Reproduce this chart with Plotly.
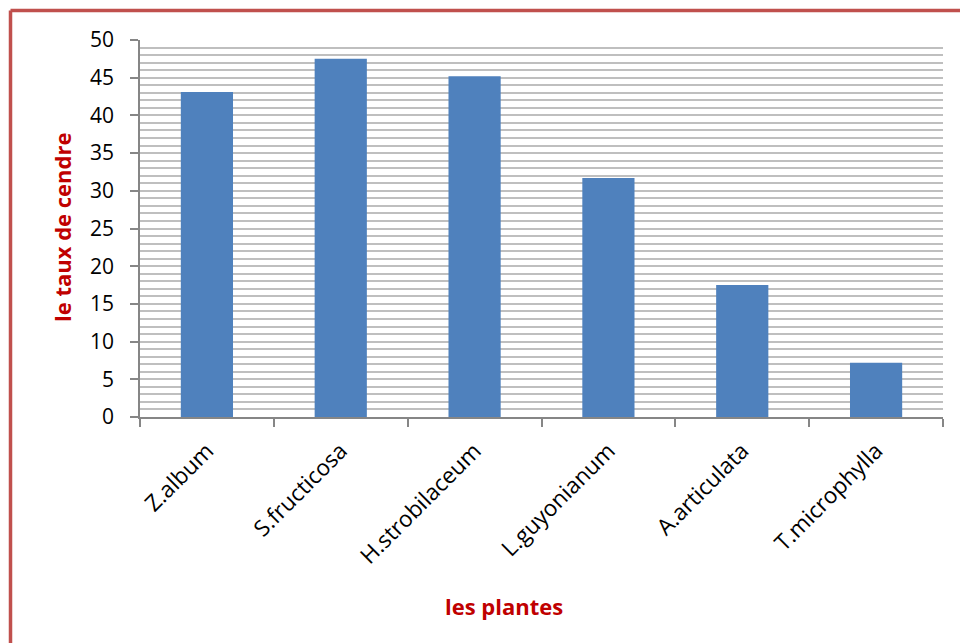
import plotly.graph_objects as go

categories = ["Z.album", "S.fructicosa", "H.strobilaceum", "L.guyonianum", "A.articulata", "T.microphylla"]
values = [43.1, 47.5, 45.2, 31.7, 17.5, 7.2]
y_title = "le taux de cendre"
x_title = "les plantes"

W, H = 960, 643
L, R, T, B = 140, 17, 40, 226
pw, ph = W - L - R, H - T - B

def px_x(px):
    return (px - L) / pw

def px_y(py):
    return (H - B - py) / ph

fig = go.Figure(go.Bar(x=categories, y=values, marker=dict(color="#4F81BD", line=dict(width=0)), width=0.39))

font_main = "Open Sans, Liberation Sans, Arial"
fig.update_layout(
    width=W, height=H,
    margin=dict(l=L, r=R, t=T, b=B),
    paper_bgcolor="white", plot_bgcolor="white",
    showlegend=False,
    font=dict(family=font_main, size=18, color="black"),
    xaxis=dict(
        type="category", tickson="boundaries", ticks="outside", ticklen=8,
        tickcolor="#868686", tickwidth=1.5, showline=True, linecolor="#868686", linewidth=1.5,
        showgrid=False, tickangle=-45, tickfont=dict(size=22.5, family=font_main),
        ticklabelstandoff=10,
    ),
    yaxis=dict(
        range=[0, 50], dtick=5, tick0=0, ticks="outside", ticklen=8,
        tickcolor="#868686", tickwidth=1.5, showline=True, linecolor="#868686", linewidth=1.5,
        showgrid=True, gridcolor="#BFBFBF", gridwidth=1.5, zeroline=False,
        minor=dict(dtick=1, showgrid=True, gridcolor="#BFBFBF", gridwidth=1.5),
        tickfont=dict(size=21, family=font_main),
        ticklabelstandoff=12,
    ),
    annotations=[
        dict(text="<b>" + y_title + "</b>", xref="paper", yref="paper",
             x=px_x(62), y=px_y(228), textangle=-90, showarrow=False,
             font=dict(size=22, color="#C00000", family=font_main),
             xanchor="center", yanchor="middle"),
        dict(text="<b>" + x_title + "</b>", xref="paper", yref="paper",
             x=px_x(504), y=px_y(606), showarrow=False,
             font=dict(size=22, color="#C00000", family=font_main),
             xanchor="center", yanchor="middle"),
    ],
    shapes=[
        dict(type="line", xref="paper", yref="paper", x0=px_x(10.5), x1=px_x(1000), y0=px_y(10.5), y1=px_y(10.5),
             line=dict(color="#C0504D", width=3.5)),
        dict(type="line", xref="paper", yref="paper", x0=px_x(10.5), x1=px_x(10.5), y0=px_y(10.5), y1=px_y(700),
             line=dict(color="#C0504D", width=3.5)),
    ],
)

fig.write_html("out.html")
